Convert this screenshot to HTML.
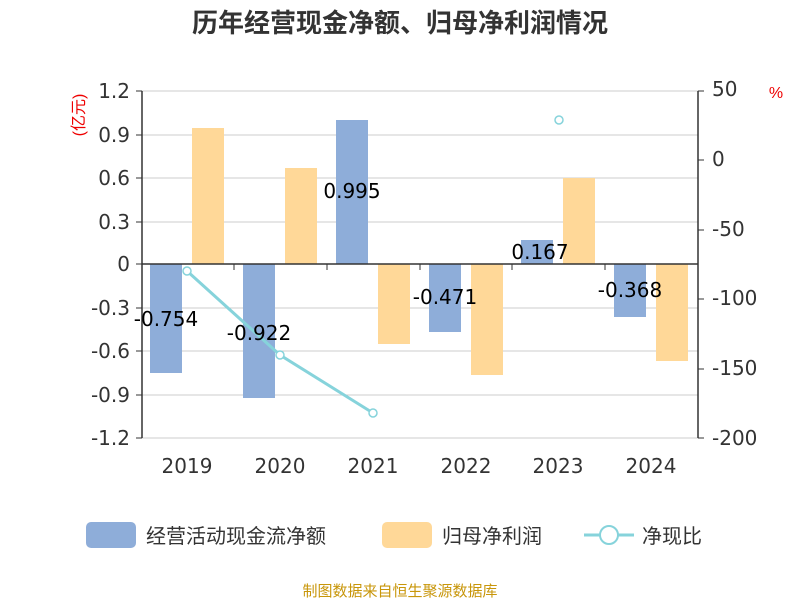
<!DOCTYPE html>
<html><head><meta charset="utf-8"><style>
body{margin:0;background:#fff;}
svg{display:block;font-family:"Liberation Sans","Noto Sans CJK SC",sans-serif;}
.n{font-family:"DejaVu Sans",sans-serif;}
</style></head><body>
<svg width="800" height="600" xmlns="http://www.w3.org/2000/svg">
<text x="400" y="32" text-anchor="middle" font-size="26" font-weight="bold" fill="#333">历年经营现金净额、归母净利润情况</text>
<g stroke="#ccc" stroke-width="1">
<line x1="142" y1="91" x2="698" y2="91"/><line x1="142" y1="135" x2="698" y2="135"/>
<line x1="142" y1="178" x2="698" y2="178"/><line x1="142" y1="222" x2="698" y2="222"/>
<line x1="142" y1="308" x2="698" y2="308"/><line x1="142" y1="351" x2="698" y2="351"/>
<line x1="142" y1="395" x2="698" y2="395"/><line x1="142" y1="438" x2="698" y2="438"/>
</g>
<g fill="#8eadd9">
<rect x="150" y="264" width="32" height="109"/>
<rect x="243" y="264" width="32" height="134"/>
<rect x="336" y="120" width="32" height="144"/>
<rect x="429" y="264" width="32" height="68"/>
<rect x="521" y="240" width="32" height="24"/>
<rect x="614" y="264" width="32" height="53"/>
</g>
<g fill="#ffd898">
<rect x="192" y="128" width="32" height="136"/>
<rect x="285" y="168" width="32" height="96"/>
<rect x="378" y="264" width="32" height="80"/>
<rect x="471" y="264" width="32" height="111"/>
<rect x="563" y="178" width="32" height="86"/>
<rect x="656" y="264" width="32" height="97"/>
</g>
<g stroke="#333" stroke-width="1.5">
<line x1="142" y1="91" x2="142" y2="438"/>
<line x1="698" y1="91" x2="698" y2="438"/>
<line x1="142" y1="264" x2="698" y2="264"/>
</g>
<g stroke="#333" stroke-width="1">
<line x1="142" y1="264" x2="142" y2="270"/><line x1="234" y1="264" x2="234" y2="270"/>
<line x1="327" y1="264" x2="327" y2="270"/><line x1="420" y1="264" x2="420" y2="270"/>
<line x1="512" y1="264" x2="512" y2="270"/><line x1="605" y1="264" x2="605" y2="270"/>
<line x1="698" y1="264" x2="698" y2="270"/>
<line x1="136" y1="91" x2="142" y2="91"/><line x1="136" y1="135" x2="142" y2="135"/>
<line x1="136" y1="178" x2="142" y2="178"/><line x1="136" y1="222" x2="142" y2="222"/>
<line x1="136" y1="264" x2="142" y2="264"/><line x1="136" y1="308" x2="142" y2="308"/>
<line x1="136" y1="351" x2="142" y2="351"/><line x1="136" y1="395" x2="142" y2="395"/>
<line x1="136" y1="438" x2="142" y2="438"/>
<line x1="698" y1="91" x2="704" y2="91"/><line x1="698" y1="160" x2="704" y2="160"/>
<line x1="698" y1="230" x2="704" y2="230"/><line x1="698" y1="299" x2="704" y2="299"/>
<line x1="698" y1="369" x2="704" y2="369"/><line x1="698" y1="438" x2="704" y2="438"/>
</g>
<polyline points="187,271 280,355 373,413" fill="none" stroke="#86d3db" stroke-width="3"/>
<g fill="#fff" stroke="#86d3db" stroke-width="1.5">
<circle cx="187" cy="271" r="4"/><circle cx="280" cy="355" r="4"/><circle cx="373" cy="413" r="4"/><circle cx="559" cy="120" r="4"/>
</g>
<g class="n" font-size="20" fill="#333" text-anchor="end">
<text x="130" y="98">1.2</text><text x="130" y="142">0.9</text><text x="130" y="185">0.6</text>
<text x="130" y="229">0.3</text><text x="130" y="271">0</text><text x="130" y="315">-0.3</text>
<text x="130" y="358">-0.6</text><text x="130" y="402">-0.9</text><text x="130" y="445">-1.2</text>
</g>
<g class="n" font-size="20" fill="#333" text-anchor="start">
<text x="712" y="96">50</text><text x="712" y="166">0</text><text x="712" y="236">-50</text>
<text x="712" y="305">-100</text><text x="712" y="375">-150</text><text x="712" y="445">-200</text>
</g>
<g class="n" font-size="20" fill="#333" text-anchor="middle">
<text x="187" y="473">2019</text><text x="280" y="473">2020</text><text x="373" y="473">2021</text>
<text x="466" y="473">2022</text><text x="558" y="473">2023</text><text x="651" y="473">2024</text>
</g>
<g class="n" font-size="20" fill="#000" text-anchor="middle">
<text x="166" y="326">-0.754</text><text x="259" y="340">-0.922</text><text x="352" y="198">0.995</text>
<text x="445" y="304">-0.471</text><text x="540" y="259">0.167</text><text x="630" y="297">-0.368</text>
</g>
<text x="84" y="115" font-size="16" fill="#e00" text-anchor="middle" transform="rotate(-90 84 115)">(亿元)</text>
<text x="776" y="98" font-size="16" fill="#e00" text-anchor="middle">%</text>
<rect x="86" y="522" width="50" height="26" rx="5" fill="#8eadd9"/>
<text x="146" y="543" font-size="20" fill="#333">经营活动现金流净额</text>
<rect x="382" y="522" width="50" height="26" rx="5" fill="#ffd898"/>
<text x="442" y="543" font-size="20" fill="#333">归母净利润</text>
<line x1="584" y1="535" x2="634" y2="535" stroke="#86d3db" stroke-width="3"/>
<circle cx="609" cy="535" r="9" fill="#fff" stroke="#86d3db" stroke-width="2"/>
<text x="642" y="543" font-size="20" fill="#333">净现比</text>
<text x="400" y="596" font-size="15" fill="#c8960a" text-anchor="middle">制图数据来自恒生聚源数据库</text>
</svg>
</body></html>
